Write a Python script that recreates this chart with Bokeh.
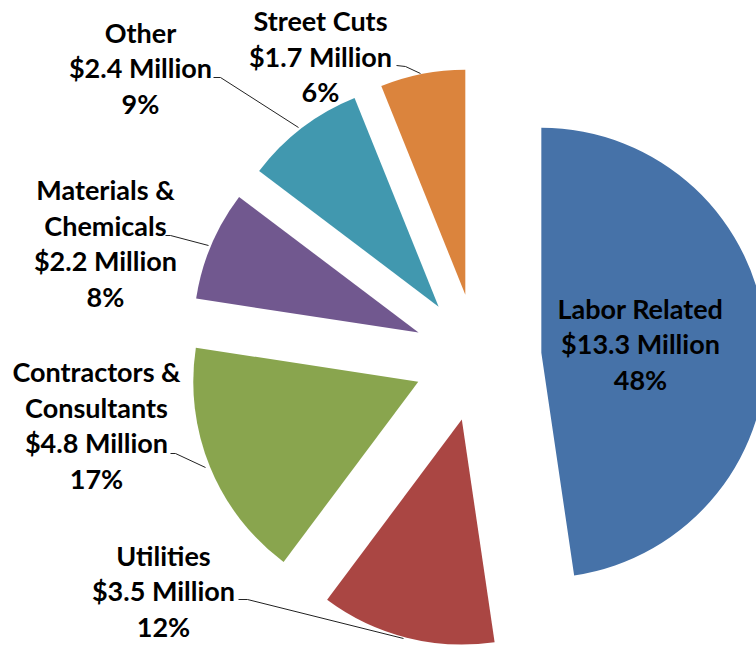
import numpy as np
from bokeh.plotting import figure
from bokeh.models import ColumnDataSource, Range1d
from bokeh.core.properties import value
from bokeh.embed import file_html
from bokeh.resources import INLINE

# ---- data ----
categories = ["Labor Related", "Utilities", "Contractors &\nConsultants",
              "Materials &\nChemicals", "Other", "Street Cuts"]
amounts = [13.3, 3.5, 4.8, 2.2, 2.4, 1.7]   # $ Million
percents = [48, 12, 17, 8, 9, 6]            # % as labelled
colors = ["#4672A8", "#AA4643", "#89A54E", "#71588F", "#4198AF", "#DB843D"]

# ---- layout (pixel units, y measured upward from page bottom) ----
W, H = 756, 645
CX, CY = 477, H - 357
R = 225
EXPLODE = 64
LINE_STEP = 35.5
TEXT_SHIFT = -2  # px, upward

label_pos = [(640, 345), (163, 592), (96, 426.5), (105, 244.5), (140, 69), (320, 57.5)]
leader_pts = [
    None,
    [(238, 599), (247, 599), (403, 638)],
    [(170, 453), (175, 453), (205, 467)],
    [(165, 235), (170, 235), (208, 245)],
    [(213, 77), (220, 77), (298, 127)],
    [(396, 65), (405, 66), (420, 73)],
]

vals = np.array(amounts, dtype=float)
frac = vals / vals.sum()
cum = np.concatenate([[0.0], np.cumsum(frac)])
a_start = np.pi / 2 - 2 * np.pi * cum[:-1]
a_end = np.pi / 2 - 2 * np.pi * cum[1:]
mid = (a_start + a_end) / 2
xs = CX + EXPLODE * np.cos(mid)
ys = CY + EXPLODE * np.sin(mid)

wedges = ColumnDataSource(dict(x=xs, y=ys, start=a_end, end=a_start, color=colors))

tx, ty, tt = [], [], []
for c, a, pc, (lxp, lyp) in zip(categories, amounts, percents, label_pos):
    lines = c.split("\n") + [f"${a:.1f} Million", f"{pc}%"]
    n = len(lines)
    for i, ln in enumerate(lines):
        tx.append(lxp)
        ty.append(H - (lyp + TEXT_SHIFT + (i - (n - 1) / 2) * LINE_STEP))
        tt.append(ln)
texts = ColumnDataSource(dict(x=tx, y=ty, text=tt))

lx, ly = [], []
for pts in leader_pts:
    if pts is None:
        continue
    lx.append([pt[0] for pt in pts])
    ly.append([H - pt[1] for pt in pts])

p = figure(width=W, height=H, x_range=Range1d(0, W), y_range=Range1d(0, H),
           output_backend="svg", toolbar_location=None, min_border=0)
p.axis.visible = False
p.grid.visible = False
p.outline_line_color = None
p.background_fill_color = "white"

p.wedge(x="x", y="y", radius=R, start_angle="start", end_angle="end",
        direction="anticlock", fill_color="color", line_color=None, source=wedges)
p.multi_line(xs=lx, ys=ly, line_color="#222222", line_width=1)
p.text(x="x", y="y", text="text", source=texts, text_align="center", text_baseline="middle",
       text_font=value("Lato"), text_font_style="bold", text_font_size="27px",
       text_color="black")

open("out.html", "w").write(file_html(p, INLINE))
